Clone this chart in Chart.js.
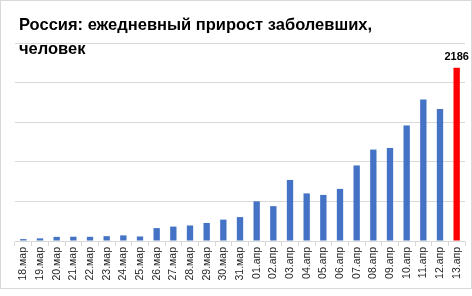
<!DOCTYPE html>
<html>
<head>
<meta charset="utf-8">
<script src="https://cdn.jsdelivr.net/npm/chart.js@4"></script>
<style>
  body { margin: 0; background: #fff; }
</style>
</head>
<body>
<canvas id="myChart" width="472" height="296"></canvas>
<script>
const titleLines = ["Россия: ежедневный прирост заболевших,", "человек"];

const days = ["18.мар", "19.мар", "20.мар", "21.мар", "22.мар", "23.мар", "24.мар",
              "25.мар", "26.мар", "27.мар", "28.мар", "29.мар", "30.мар", "31.мар",
              "01.апр", "02.апр", "03.апр", "04.апр", "05.апр", "06.апр", "07.апр",
              "08.апр", "09.апр", "10.апр", "11.апр", "12.апр", "13.апр"];

const newCases = [24, 33, 52, 54, 53, 61, 71, 57, 163, 182, 196, 228, 270, 302,
                  501, 440, 771, 601, 582, 658, 954, 1154, 1175, 1459, 1786, 1667, 2186];

const yTicks = [0, 500, 1000, 1500, 2000, 2500];

const barColors = newCases.map((v, i) => i === newCases.length - 1 ? "#ff0000" : "#4472c4");

// title, frame and the label on the last bar
const extras = {
  id: "extras",
  afterDraw(chart) {
    const ctx = chart.ctx;
    ctx.save();
    ctx.strokeStyle = "#d9d9d9";
    ctx.lineWidth = 1;
    ctx.strokeRect(0.5, 0.5, 471, 288);

    ctx.fillStyle = "#000";
    ctx.font = "bold 16.5px 'Liberation Sans', Arial, sans-serif";
    ctx.textAlign = "left";
    ctx.textBaseline = "alphabetic";
    ctx.fillText(titleLines[0], 19, 30);
    ctx.fillText(titleLines[1], 19, 54);

    const meta = chart.getDatasetMeta(0);
    const last = meta.data[meta.data.length - 1];
    ctx.font = "bold 11px 'Liberation Sans', Arial, sans-serif";
    ctx.textAlign = "center";
    ctx.fillText(String(newCases[newCases.length - 1]), last.x, last.y - 8);
    ctx.restore();
  }
};

const ctx = document.getElementById("myChart").getContext("2d");

const myChart = new Chart(ctx, {
  type: "bar",
  data: {
    labels: days,
    datasets: [{
      data: newCases,
      backgroundColor: barColors,
      barPercentage: 0.38,
      categoryPercentage: 1
    }]
  },
  options: {
    responsive: false,
    animation: false,
    layout: { padding: { left: 15, right: 7, top: 43, bottom: 0 } },
    plugins: {
      legend: { display: false },
      tooltip: { enabled: false }
    },
    scales: {
      x: {
        afterFit: s => { s.height = 55; },
        grid: {
          color: "#d9d9d9",
          drawOnChartArea: false,
          drawTicks: true,
          tickLength: 5,
          offset: true
        },
        border: { color: "#d9d9d9" },
        ticks: {
          minRotation: 90,
          maxRotation: 90,
          autoSkip: false,
          padding: 1,
          color: "#262626",
          font: { family: "'Liberation Sans', Arial, sans-serif", size: 10.5 }
        }
      },
      y: {
        min: 0,
        max: 2500,
        afterFit: s => { s.width = 0; },
        afterBuildTicks: s => { s.ticks = yTicks.map(v => ({ value: v })); },
        grid: { color: "#d9d9d9", drawTicks: false },
        border: { display: false },
        ticks: { display: false }
      }
    }
  },
  plugins: [extras]
});
</script>
</body>
</html>
